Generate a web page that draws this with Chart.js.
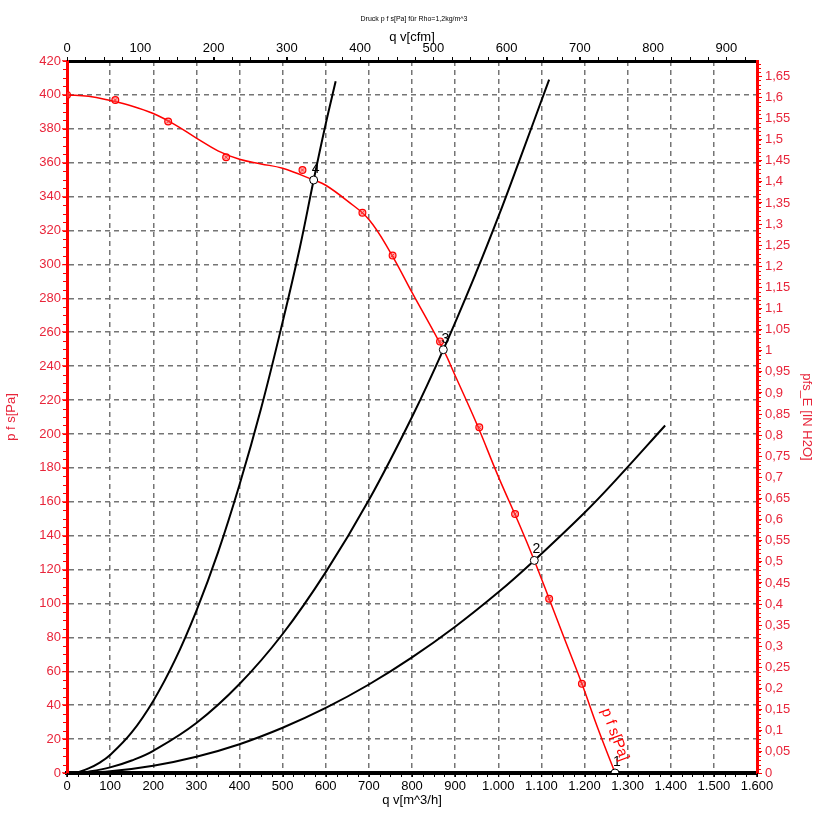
<!DOCTYPE html>
<html><head><meta charset="utf-8">
<script src="https://cdn.jsdelivr.net/npm/chart.js@4.4.1/dist/chart.umd.min.js"></script>
<style>html,body{margin:0;padding:0;background:#fff;overflow:hidden}</style>
</head><body>
<canvas id="c" width="828" height="835"></canvas>
<script>
// ---- data ----
const fanQ = [0, 50, 100, 150, 200, 250, 300, 350, 400, 450, 500, 572, 600, 650, 700, 750, 800, 872.6, 900, 950, 1000, 1050, 1083.6, 1118, 1150, 1194, 1230, 1271];
const fanP = [400, 399.2, 396.7, 393.5, 389, 382.5, 374.5, 367, 362, 359.3, 356.7, 349.8, 346.7, 337.5, 326.5, 307, 283.5, 249.7, 234.5, 206, 175, 146, 125.4, 102.8, 81.5, 52.6, 27, 0];
const markerQ = [0, 112, 234.6, 369, 546, 685, 755, 865, 956, 1039, 1118, 1194];
const markerP = [400, 397, 384.3, 363.2, 355.7, 330.5, 305.3, 254.6, 203.9, 152.8, 102.8, 52.6];
const sys4Q = [20, 50, 75, 100, 150, 200, 250, 300, 350, 400, 450, 500, 540, 572, 600, 623];
const sys4P = [0, 2.7, 6, 10.6, 23.9, 42.5, 66.4, 95.7, 130, 170, 215, 266, 310, 349.8, 383, 408];
const sys3Q = [20, 50, 100, 150, 200, 300, 400, 500, 600, 700, 800, 872.6, 950, 1000, 1050, 1118];
const sys3P = [0, 0.8, 3.3, 7.4, 13.1, 29.5, 52.5, 82, 118.5, 161, 210, 249.7, 296, 328, 362, 409];
const sys2Q = [20, 100, 200, 300, 400, 500, 600, 700, 800, 900, 1000, 1083.6, 1200, 1275, 1387];
const sys2P = [0, 1, 4.3, 9.6, 17, 26.7, 38.4, 52.2, 68.2, 86.3, 106.6, 125.4, 153.5, 173.5, 205];
const opQ = [1270.7, 1083.6, 872.6, 572];
const opP = [0, 125.4, 249.7, 349.8];
const opLabels = ['1', '2', '3', '4'];
const curveLabel = 'p f s[Pa]';
const curveLabelAt = [1242, 20];

const xTicks = [0,100,200,300,400,500,600,700,800,900,1000,1100,1200,1300,1400,1500,1600];
const xTickLabels = ['0','100','200','300','400','500','600','700','800','900','1.000','1.100','1.200','1.300','1.400','1.500','1.600'];
const x2Ticks = [0,100,200,300,400,500,600,700,800,900];
const x2TickLabels = ['0','100','200','300','400','500','600','700','800','900'];
const yTicks = [0,20,40,60,80,100,120,140,160,180,200,220,240,260,280,300,320,340,360,380,400,420];
const y2Ticks = [0,0.05,0.1,0.15,0.2,0.25,0.3,0.35,0.4,0.45,0.5,0.55,0.6,0.65,0.7,0.75,0.8,0.85,0.9,0.95,1,1.05,1.1,1.15,1.2,1.25,1.3,1.35,1.4,1.45,1.5,1.55,1.6,1.65];
const y2TickLabels = ['0','0,05','0,1','0,15','0,2','0,25','0,3','0,35','0,4','0,45','0,5','0,55','0,6','0,65','0,7','0,75','0,8','0,85','0,9','0,95','1','1,05','1,1','1,15','1,2','1,25','1,3','1,35','1,4','1,45','1,5','1,55','1,6','1,65'];

const PA_PER_INH2O = 249.0889;
const M3H_PER_CFM = 1.699011;
const X_MAX = 1600, Y_MAX = 420;

// ---- helpers ----
const F = "'Liberation Sans', Arial, sans-serif";
const RED = '#ff0000';
const RED_TXT = '#e8253a';
const pts = (qs, ps) => qs.map((q, i) => ({x: q, y: ps[i]}));

const minorSpecs = [
  {id: 'y',  step: 5,    max: Y_MAX,                len: 3, color: RED,    side: 'left'},
  {id: 'y2', step: 0.01, max: Y_MAX / PA_PER_INH2O, len: 3, color: RED,    side: 'right'},
  {id: 'x',  step: 25,   max: X_MAX,                len: 3, color: '#000', side: 'bottom'},
  {id: 'x2', step: 25,   max: X_MAX / M3H_PER_CFM,  len: 3, color: '#000', side: 'top'}
];

const minorTicks = {
  id: 'minorTicks',
  afterDraw(chart) {
    const ctx = chart.ctx, a = chart.chartArea;
    ctx.save();
    minorSpecs.forEach(s => {
      const sc = chart.scales[s.id];
      ctx.strokeStyle = s.color; ctx.lineWidth = 1;
      const n = Math.floor(s.max / s.step + 1e-6);
      for (let k = 0; k <= n; k++) {
        const p = Math.round(sc.getPixelForValue(k * s.step)) + 0.5;
        ctx.beginPath();
        if (s.side === 'left') { ctx.moveTo(a.left - s.len - 1, p); ctx.lineTo(a.left, p); }
        else if (s.side === 'right') { ctx.moveTo(a.right, p); ctx.lineTo(a.right + s.len + 1, p); }
        else if (s.side === 'bottom') { ctx.moveTo(p, a.bottom); ctx.lineTo(p, a.bottom + s.len + 1); }
        else { ctx.moveTo(p, a.top - s.len - 1); ctx.lineTo(p, a.top); }
        ctx.stroke();
      }
    });
    ctx.restore();
  }
};

const labelsPlugin = {
  id: 'labelsPlugin',
  afterDatasetsDraw(chart) {
    const ctx = chart.ctx;
    ctx.save();
    // operating point numbers
    const meta = chart.getDatasetMeta(5);
    ctx.font = '14px ' + F; ctx.fillStyle = '#000';
    ctx.textAlign = 'center'; ctx.textBaseline = 'middle';
    meta.data.forEach((el, i) => ctx.fillText(opLabels[i], el.x + 2, el.y - 11));
    // curve name along the fan curve
    const xs = chart.scales.x, ys = chart.scales.y;
    const n = markerQ.length - 1;
    const x1 = xs.getPixelForValue(markerQ[n]), y1 = ys.getPixelForValue(markerP[n]);
    const x2 = xs.getPixelForValue(fanQ[fanQ.length - 1]), y2 = ys.getPixelForValue(fanP[fanP.length - 1]);
    const ang = Math.atan2(y2 - y1, x2 - x1);
    const ax = xs.getPixelForValue(curveLabelAt[0]), ay = ys.getPixelForValue(curveLabelAt[1]);
    const off = 13;
    ctx.translate(ax + off * Math.sin(ang), ay - off * Math.cos(ang));
    ctx.rotate(ang);
    ctx.font = '15px ' + F; ctx.fillStyle = RED;
    ctx.fillText(curveLabel, 0, 0);
    ctx.restore();
  }
};

const gridCommon = {color: '#757575', lineWidth: 1.5, tickLength: 5, tickWidth: 1, tickBorderDash: []};
const lineDs = (q, p, color, w, order) => ({data: pts(q, p), showLine: true, borderColor: color, borderWidth: w, pointRadius: 0, tension: 0.4, xAxisID: 'x', yAxisID: 'y', order: order});

new Chart(document.getElementById('c'), {
  type: 'scatter',
  data: {
    datasets: [
      lineDs(fanQ, fanP, RED, 1.5, 2),
      lineDs(sys4Q, sys4P, '#000', 2, 3),
      lineDs(sys3Q, sys3P, '#000', 2, 3),
      lineDs(sys2Q, sys2P, '#000', 2, 3),
      {data: pts(markerQ, markerP), showLine: false, pointStyle: 'circle', pointRadius: 3.4, borderColor: RED, borderWidth: 1.2, backgroundColor: 'rgba(255,90,90,0.5)', xAxisID: 'x', yAxisID: 'y', order: 1},
      {data: pts(opQ, opP), showLine: false, pointStyle: 'circle', pointRadius: 4, borderColor: '#000', borderWidth: 1, backgroundColor: '#fff', xAxisID: 'x', yAxisID: 'y', order: 0},
      {data: pts(markerQ, markerP), showLine: false, pointStyle: 'crossRot', pointRadius: 2.2, borderColor: RED, borderWidth: 1, xAxisID: 'x', yAxisID: 'y', order: 1}
    ]
  },
  options: {
    responsive: false, animation: false, devicePixelRatio: 1,
    layout: {padding: 0},
    plugins: {
      legend: {display: false}, tooltip: {enabled: false},
      title: {display: true, text: 'Druck p f s[Pa] für Rho=1,2kg/m^3', color: '#000', font: {size: 7, family: F, weight: 'normal'}, padding: {top: 15, bottom: 4}}
    },
    scales: {
      x: {
        type: 'linear', position: 'bottom', min: 0, max: X_MAX,
        afterBuildTicks: s => { s.ticks = xTicks.map(v => ({value: v})); },
        afterFit: s => { s.height = 62; },
        ticks: {callback: (v, i) => xTickLabels[i], color: '#000', font: {size: 13, family: F}, padding: 2, maxRotation: 0, autoSkip: false},
        grid: Object.assign({}, gridCommon, {tickColor: '#000', tickLength: 4}),
        border: {color: '#000', width: 4, dash: [5, 4]},
        title: {display: true, text: 'q v[m^3/h]', color: '#000', font: {size: 13, family: F}, padding: {top: 0, bottom: 27}}
      },
      x2: {
        type: 'linear', position: 'top', min: 0, max: X_MAX / M3H_PER_CFM,
        afterBuildTicks: s => { s.ticks = x2Ticks.map(v => ({value: v})); },
        afterFit: s => { s.height = 61 - ((s.chart.titleBlock && s.chart.titleBlock.height) || 27.4); },
        ticks: {callback: (v, i) => x2TickLabels[i], color: '#000', font: {size: 13, family: F}, padding: 1, maxRotation: 0, autoSkip: false},
        grid: {drawOnChartArea: false, tickColor: '#000', tickLength: 4, tickWidth: 1},
        border: {color: '#000', width: 3},
        title: {display: true, text: 'q v[cfm]', color: '#000', font: {size: 13, family: F}, padding: {top: 2, bottom: 0}}
      },
      y: {
        type: 'linear', position: 'left', min: 0, max: Y_MAX,
        afterBuildTicks: s => { s.ticks = yTicks.map(v => ({value: v})); },
        afterFit: s => { s.width = 67; },
        ticks: {color: RED_TXT, font: {size: 13, family: F}, padding: 1, autoSkip: false},
        grid: Object.assign({}, gridCommon, {tickColor: RED}),
        border: {color: RED, width: 3, dash: [5, 4]},
        title: {display: true, text: 'p f s[Pa]', color: RED_TXT, font: {size: 13, family: F}, padding: {top: 4, bottom: 0}}
      },
      y2: {
        type: 'linear', position: 'right', min: 0, max: Y_MAX / PA_PER_INH2O,
        afterBuildTicks: s => { s.ticks = y2Ticks.map(v => ({value: v})); },
        afterFit: s => { s.width = 71; },
        ticks: {callback: (v, i) => y2TickLabels[i], color: RED_TXT, font: {size: 13, family: F}, padding: 3, autoSkip: false},
        grid: {drawOnChartArea: false, tickColor: RED, tickLength: 5, tickWidth: 1},
        border: {color: RED, width: 3},
        title: {display: true, text: 'pfs_E [IN H2O]', color: RED_TXT, font: {size: 13, family: F}, padding: {top: 14, bottom: 0}}
      }
    }
  },
  plugins: [minorTicks, labelsPlugin]
});
</script>
</body></html>
